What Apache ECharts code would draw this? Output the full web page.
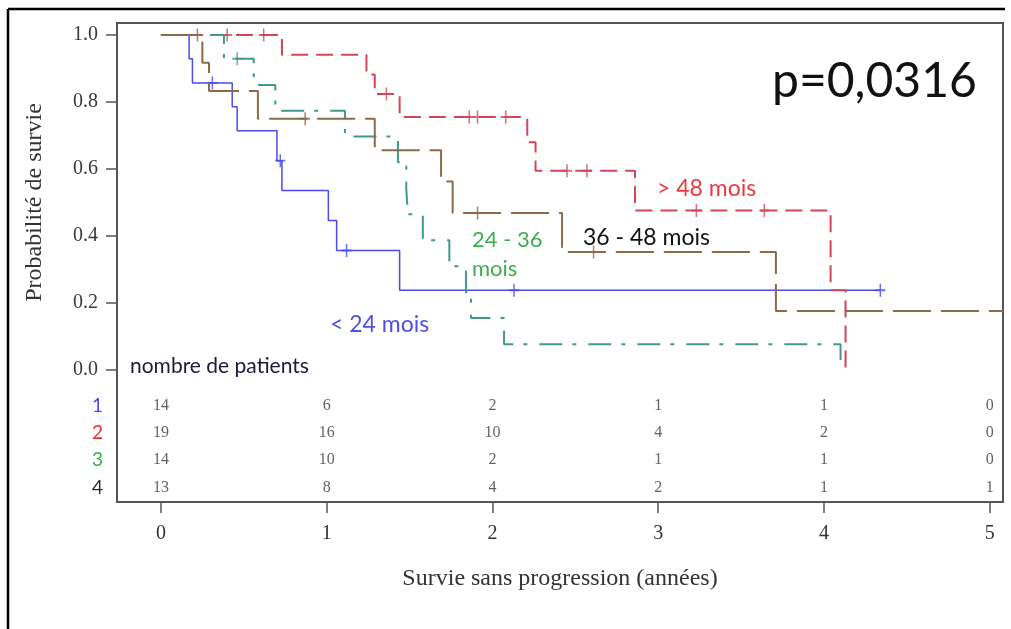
<!DOCTYPE html>
<html><head><meta charset="utf-8">
<script src="https://cdn.jsdelivr.net/npm/echarts@6/dist/echarts.min.js"></script>
<style>html,body{margin:0;padding:0;background:#fff}#c{width:1011px;height:629px}</style>
</head><body><div id="c"></div>
<script>
// ---- data ----
const xTicks = [0, 1, 2, 3, 4, 5];
const groupIds = ['1', '2', '3', '4'];
const riskTimes = [0, 1, 2, 3, 4, 5];
const risk1 = [14, 6, 2, 1, 1, 0];
const risk2 = [19, 16, 10, 4, 2, 0];
const risk3 = [14, 10, 2, 1, 1, 0];
const risk4 = [13, 8, 4, 2, 1, 1];

// group 1 : < 24 mois
const g1Times = [0, 0.17, 0.19, 0.43, 0.46, 0.70, 0.73, 1.01, 1.06, 1.44, 4.34];
const g1Surv  = [1, 0.929, 0.857, 0.786, 0.714, 0.625, 0.536, 0.446, 0.357, 0.238, 0.238];
const g1CensT = [0.31, 0.72, 1.12, 2.13, 4.34];
const g1CensS = [0.857, 0.625, 0.357, 0.238, 0.238];
// group 2 : > 48 mois
const g2Times = [0, 0.73, 1.24, 1.29, 1.44, 2.21, 2.26, 2.86, 4.04, 4.13];
const g2Surv  = [1, 0.941, 0.882, 0.824, 0.755, 0.68, 0.595, 0.476, 0.238, 0];
const g2CensT = [0.40, 0.62, 1.36, 1.86, 1.91, 2.08, 2.45, 2.57, 3.23, 3.64];
const g2CensS = [1, 1, 0.824, 0.755, 0.755, 0.755, 0.595, 0.595, 0.476, 0.476];
// group 3 : 24 - 36 mois
const g3Times = [0, 0.38, 0.56, 0.69, 1.11, 1.43, 1.48, 1.49, 1.58, 1.74, 1.84, 1.87, 2.07, 4.10];
const g3Surv  = [1, 0.929, 0.851, 0.774, 0.697, 0.62, 0.542, 0.465, 0.387, 0.31, 0.232, 0.155, 0.077, 0];
const g3CensT = [0.46];
const g3CensS = [0.929];
// group 4 : 36 - 48 mois
const g4Times = [0, 0.25, 0.29, 0.585, 1.29, 1.69, 1.76, 2.42, 3.71, 5.08];
const g4Surv  = [1, 0.917, 0.833, 0.75, 0.656, 0.5625, 0.469, 0.352, 0.176, 0.176];
const g4CensT = [0.22, 0.87, 1.91, 2.61];
const g4CensS = [1, 0.75, 0.469, 0.352];

// ---- build ----
const XMIN = -0.265, XMAX = 5.08;
const zip = (a, b) => a.map((v, i) => [v, b[i]]);
const PLUS = 'path://M-0.15,-1L0.15,-1L0.15,-0.15L1,-0.15L1,0.15L0.15,0.15L0.15,1L-0.15,1L-0.15,0.15L-1,0.15L-1,-0.15L-0.15,-0.15Z';
const groups = [
  {t: g1Times, s: g1Surv, ct: g1CensT, cs: g1CensS, color: '#4a4af0', type: 'solid', w: 1.5},
  {t: g2Times, s: g2Surv, ct: g2CensT, cs: g2CensS, color: '#d2465c', type: [17, 8], w: 2},
  {t: g3Times, s: g3Surv, ct: g3CensT, cs: g3CensS, color: '#3f9a8c', type: [23, 10, 4, 12], w: 2},
  {t: g4Times, s: g4Surv, ct: g4CensT, cs: g4CensS, color: '#8b6b4a', type: [38, 10], w: 2}
];
const series = [];
groups.forEach(g => {
  series.push({type: 'line', step: 'end', xAxisIndex: 0, yAxisIndex: 0, showSymbol: false,
    data: zip(g.t, g.s), lineStyle: {color: g.color, width: g.w, type: g.type}, silent: true});
  series.push({type: 'scatter', xAxisIndex: 0, yAxisIndex: 0, symbol: PLUS, symbolSize: [10, 13],
    data: zip(g.ct, g.cs), itemStyle: {color: g.color}, silent: true});
});
const riskRows = [risk1, risk2, risk3, risk4];
const tableData = [];
riskRows.forEach((row, i) => row.forEach((n, j) => tableData.push([riskTimes[j], groupIds[i], n])));
series.push({type: 'scatter', xAxisIndex: 2, yAxisIndex: 2, symbolSize: 1,
  itemStyle: {color: 'rgba(0,0,0,0)'}, data: tableData,
  label: {show: true, position: 'inside', formatter: p => p.value[2],
    fontFamily: 'Liberation Serif', fontSize: 16, color: '#3a3a3a'}});

const grpColors = ['#4a4af0', '#ee2d2d', '#34b04a', '#1f2a44'];
const rich = {};
grpColors.forEach((c, i) => rich['g' + i] = {color: c, fontSize: 19, fontFamily: 'Lato'});

const serif = 'Liberation Serif';
const sans = 'Lato';
const txt = (text, x, y, size, color) => ({type: 'text', x, y, silent: true,
  style: {text, fontSize: size, fontFamily: sans, fill: color, align: 'left', verticalAlign: 'middle'}});

const option = {
  animation: false,
  backgroundColor: '#fff',
  grid: [
    {left: 117, width: 886, top: 35, height: 335},
    {left: 117, width: 886, top: 23, height: 479, show: true, borderColor: '#555', borderWidth: 2},
    {left: 117, width: 886, top: 392, height: 109}
  ],
  xAxis: [
    {gridIndex: 0, type: 'value', min: XMIN, max: XMAX, show: false},
    {gridIndex: 1, type: 'value', min: XMIN, max: XMAX,
      axisLine: {show: false, onZero: false}, splitLine: {show: false},
      axisTick: {show: true, customValues: xTicks, length: 11, lineStyle: {color: '#555', width: 1.5}},
      axisLabel: {customValues: xTicks, margin: 22, fontFamily: serif, fontSize: 20, color: '#333'},
      name: 'Survie sans progression (années)', nameLocation: 'middle', nameGap: 65,
      nameTextStyle: {fontFamily: serif, fontSize: 24, color: '#333'}},
    {gridIndex: 2, type: 'value', min: XMIN, max: XMAX, show: false}
  ],
  yAxis: [
    {gridIndex: 0, type: 'value', min: 0, max: 1, interval: 0.2,
      axisLine: {show: false, onZero: false}, splitLine: {show: false},
      axisTick: {show: true, length: 11, lineStyle: {color: '#555', width: 1.5}},
      axisLabel: {formatter: v => v.toFixed(1), margin: 19, fontFamily: serif, fontSize: 20, color: '#3a3a3a'},
      name: 'Probabilité de survie', nameLocation: 'middle', nameGap: 70, nameRotate: 90,
      nameTextStyle: {fontFamily: serif, fontSize: 24, color: '#333'}},
    {gridIndex: 1, type: 'value', min: 0, max: 1, show: false},
    {gridIndex: 2, type: 'category', data: groupIds, inverse: true,
      axisLine: {show: false, onZero: false}, axisTick: {show: false}, splitLine: {show: false},
      axisLabel: {margin: 14, formatter: (v, i) => '{g' + i + '|' + v + '}', rich}}
  ],
  series,
  graphic: [
    {type: 'line', silent: true, shape: {x1: 8, y1: 9, x2: 1005, y2: 9}, style: {stroke: '#000', lineWidth: 2.5}},
    {type: 'line', silent: true, shape: {x1: 8, y1: 9, x2: 8, y2: 629}, style: {stroke: '#000', lineWidth: 2.5}},
    txt('p=0,0316', 772, 82, 48, '#111'),
    txt('> 48 mois', 657, 189, 23, '#ee3a3e'),
    txt('36 - 48 mois', 583, 238, 23, '#111'),
    txt('24 - 36', 472, 240, 22, '#3cb04a'),
    txt('mois', 472, 269, 22, '#3cb04a'),
    txt('< 24 mois', 330, 325, 23, '#4f4fe6'),
    txt('nombre de patients', 130, 366, 21, '#1a1a3a')
  ]
};
echarts.init(document.getElementById('c')).setOption(option);
</script></body></html>
